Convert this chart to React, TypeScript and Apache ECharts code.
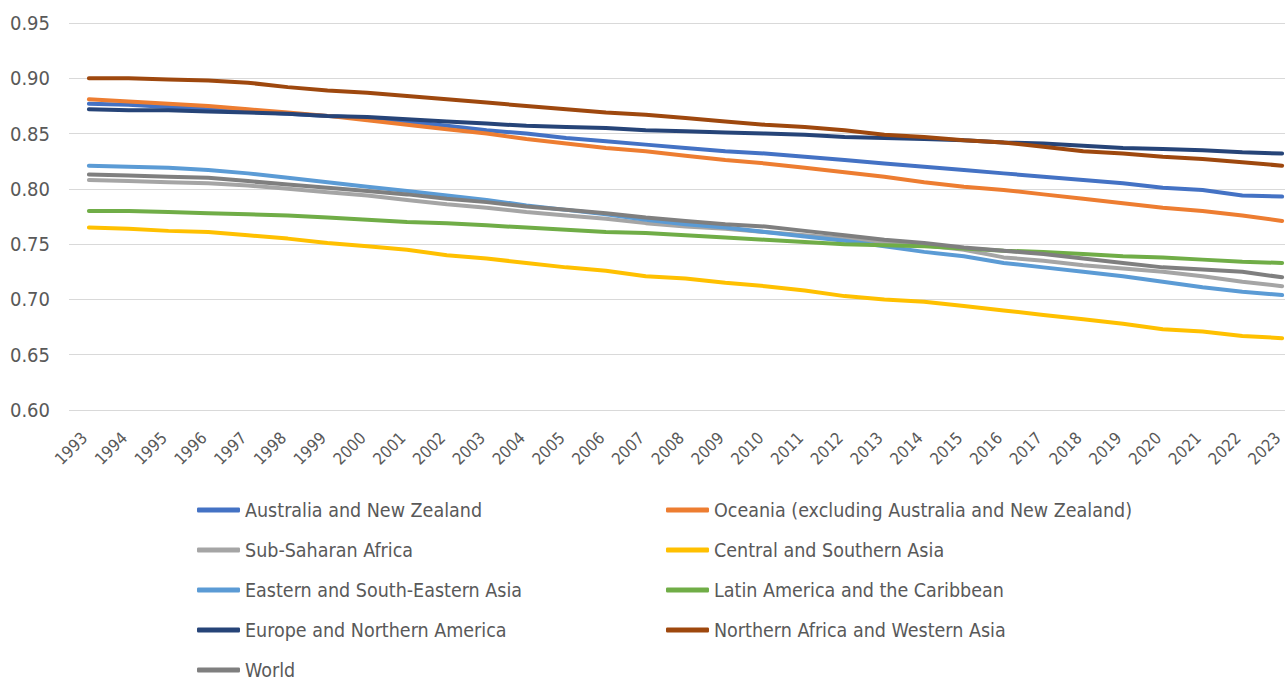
import React, { useEffect, useRef } from "react";
import * as echarts from "echarts";

const years = [
  "1993","1994","1995","1996","1997","1998","1999","2000","2001","2002","2003","2004","2005","2006","2007","2008",
  "2009","2010","2011","2012","2013","2014","2015","2016","2017","2018","2019","2020","2021","2022","2023",
];

const anz = [0.877,0.876,0.874,0.872,0.870,0.868,0.866,0.864,0.861,0.857,0.853,0.850,0.846,0.843,0.840,0.837,0.834,0.832,0.829,0.826,0.823,0.820,0.817,0.814,0.811,0.808,0.805,0.801,0.799,0.794,0.793];
const oceania = [0.881,0.879,0.877,0.875,0.872,0.869,0.866,0.862,0.858,0.854,0.850,0.845,0.841,0.837,0.834,0.830,0.826,0.823,0.819,0.815,0.811,0.806,0.802,0.799,0.795,0.791,0.787,0.783,0.780,0.776,0.771];
const ssa = [0.808,0.807,0.806,0.805,0.803,0.800,0.797,0.794,0.790,0.786,0.783,0.779,0.776,0.773,0.769,0.766,0.764,0.761,0.758,0.755,0.752,0.749,0.745,0.738,0.735,0.731,0.728,0.725,0.721,0.716,0.712];
const csa = [0.765,0.764,0.762,0.761,0.758,0.755,0.751,0.748,0.745,0.740,0.737,0.733,0.729,0.726,0.721,0.719,0.715,0.712,0.708,0.703,0.700,0.698,0.694,0.690,0.686,0.682,0.678,0.673,0.671,0.667,0.665];
const esea = [0.821,0.820,0.819,0.817,0.814,0.810,0.806,0.802,0.798,0.794,0.790,0.785,0.781,0.777,0.772,0.768,0.765,0.761,0.757,0.753,0.748,0.743,0.739,0.733,0.729,0.725,0.721,0.716,0.711,0.707,0.704];
const lac = [0.780,0.780,0.779,0.778,0.777,0.776,0.774,0.772,0.770,0.769,0.767,0.765,0.763,0.761,0.760,0.758,0.756,0.754,0.752,0.750,0.749,0.748,0.746,0.744,0.743,0.741,0.739,0.738,0.736,0.734,0.733];
const ena = [0.872,0.871,0.871,0.870,0.869,0.868,0.866,0.865,0.863,0.861,0.859,0.857,0.856,0.855,0.853,0.852,0.851,0.850,0.849,0.847,0.846,0.845,0.844,0.842,0.841,0.839,0.837,0.836,0.835,0.833,0.832];
const nawa = [0.900,0.900,0.899,0.898,0.896,0.892,0.889,0.887,0.884,0.881,0.878,0.875,0.872,0.869,0.867,0.864,0.861,0.858,0.856,0.853,0.849,0.847,0.844,0.842,0.838,0.834,0.832,0.829,0.827,0.824,0.821];
const world = [0.813,0.812,0.811,0.810,0.807,0.804,0.801,0.798,0.795,0.791,0.788,0.784,0.781,0.778,0.774,0.771,0.768,0.766,0.762,0.758,0.754,0.751,0.747,0.744,0.741,0.737,0.733,0.729,0.727,0.725,0.720];

const seriesNames = [
  "Australia and New Zealand",
  "Oceania (excluding Australia and New Zealand)",
  "Sub-Saharan Africa",
  "Central and Southern Asia",
  "Eastern and South-Eastern Asia",
  "Latin America and the Caribbean",
  "Europe and Northern America",
  "Northern Africa and Western Asia",
  "World",
];
const seriesData = [anz, oceania, ssa, csa, esea, lac, ena, nawa, world];
const colors = ["#4472C4", "#ED7D31", "#A5A5A5", "#FFC000", "#5B9BD5", "#70AD47", "#264478", "#9E480E", "#7F7F7F"];

const legendLeft = [seriesNames[0], seriesNames[2], seriesNames[4], seriesNames[6], seriesNames[8]];
const legendRight = [seriesNames[1], seriesNames[3], seriesNames[5], seriesNames[7]];

const FONT = "'DejaVu Sans Condensed', 'Liberation Sans Narrow', 'Roboto', sans-serif";

export default function App() {
  const ref = useRef<HTMLDivElement>(null);
  useEffect(() => {
    if (!ref.current) return;
    const chart = echarts.init(ref.current, undefined, { renderer: "svg" });
    const legendCommon = {
      orient: "vertical",
      top: 495,
      height: 240,
      padding: 5,
      itemWidth: 43,
      itemHeight: 5,
      itemGap: 20,
      icon: "roundRect",
      textStyle: { fontFamily: FONT, fontSize: 19.5, color: "#595959" },
    };
    chart.setOption({
      animation: false,
      color: colors,
      textStyle: { fontFamily: FONT },
      grid: { left: 69, top: 23, width: 1233, height: 387, containLabel: false },
      legend: [
        { ...legendCommon, left: 192, data: legendLeft },
        { ...legendCommon, left: 661, data: legendRight },
      ],
      xAxis: {
        type: "category",
        data: years,
        boundaryGap: true,
        axisLine: { show: false },
        axisTick: { show: false },
        axisLabel: {
          rotate: 45,
          fontSize: 16.5,
          color: "#595959",
          fontFamily: FONT,
          margin: 21,
          interval: 0,
          padding: [0, 6, 0, 0],
        },
      },
      yAxis: {
        type: "value",
        min: 0.6,
        max: 0.95,
        interval: 0.05,
        axisLine: { show: false },
        axisTick: { show: false },
        splitLine: { lineStyle: { color: "#D9D9D9", width: 1 } },
        axisLabel: {
          fontSize: 20,
          color: "#595959",
          fontFamily: FONT,
          margin: 19,
          formatter: (v: number) => v.toFixed(2),
        },
      },
      series: seriesNames.map((name, i) => ({
        name,
        type: "line",
        data: seriesData[i],
        symbol: "none",
        lineStyle: { width: 4, cap: "round", join: "round" },
        color: colors[i],
      })),
    });
    return () => chart.dispose();
  }, []);
  return (
    <div style={{ position: "absolute", left: 0, top: 0, width: 1285, height: 682, overflow: "hidden" }}>
      <div ref={ref} style={{ width: 1305, height: 682 }} />
    </div>
  );
}
